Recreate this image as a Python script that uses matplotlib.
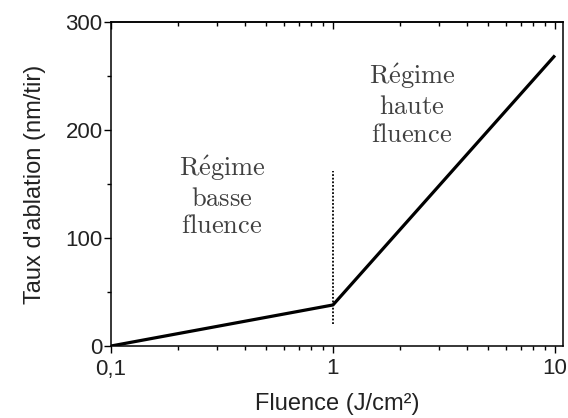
import matplotlib.pyplot as plt
from matplotlib.ticker import FixedLocator, FixedFormatter, LogLocator, NullFormatter, MultipleLocator

# données
fluence = [0.1, 1, 10]
taux = [0, 38, 269]
seuil_x = [1, 1]
seuil_y = [20, 162]
xticks = [0.1, 1, 10]
xticklabels = ["0,1", "1", "10"]
yticks = [0, 100, 200, 300]

plt.rcParams['font.family'] = ['Liberation Sans', 'DejaVu Sans']
plt.rcParams['mathtext.fontset'] = 'cm'

fig = plt.figure(figsize=(5.68, 4.18), dpi=100)
ax = fig.add_axes([111 / 568, 1 - 346 / 418, (563 - 111) / 568, (346 - 22) / 418])

ax.plot(fluence, taux, color='black', lw=2.3, solid_capstyle='butt')
ax.plot(seuil_x, seuil_y, color='black', lw=1.3, ls=(0, (1, 1)))

ax.set_xscale('log')
ax.set_xlim(0.1, 10.87)
ax.set_ylim(0, 300)

ax.xaxis.set_major_locator(FixedLocator(xticks))
ax.xaxis.set_major_formatter(FixedFormatter(xticklabels))
ax.xaxis.set_minor_locator(LogLocator(base=10, subs=range(2, 10)))
ax.xaxis.set_minor_formatter(NullFormatter())
ax.yaxis.set_major_locator(FixedLocator(yticks))
ax.yaxis.set_minor_locator(MultipleLocator(50))

for s in ax.spines.values():
    s.set_linewidth(1.1)

ax.tick_params(which='both', direction='out', top=False, right=False, width=1.0,
               labelsize=16, labelcolor='#222222')
ax.tick_params(which='major', length=5)
ax.tick_params(which='minor', length=3)
ax.tick_params(axis='x', pad=4)
ax.tick_params(axis='y', pad=1)

# ticks intérieurs en haut
sec = ax.secondary_xaxis('top')
sec.xaxis.set_major_locator(FixedLocator(xticks))
sec.xaxis.set_minor_locator(LogLocator(base=10, subs=range(2, 10)))
sec.tick_params(which='both', direction='in', width=1.0, labeltop=False)
sec.tick_params(which='major', length=5)
sec.tick_params(which='minor', length=3)
sec.spines['top'].set_linewidth(1.1)

ax.set_xlabel("Fluence (J/cm²)", fontsize=17, labelpad=10, color='#222222')
ax.set_ylabel("Taux d'ablation (nm/tir)", fontsize=17, labelpad=14, color='#222222')

bas = r"$\mathrm{R\acute{e}gime}$" + "\n" + r"$\mathrm{basse}$" + "\n" + r"$\mathrm{fluence}$"
haut = r"$\mathrm{R\acute{e}gime}$" + "\n" + r"$\mathrm{haute}$" + "\n" + r"$\mathrm{fluence}$"
ax.text(0.316, 139, bas, ha='center', va='center', fontsize=19, color='#404040', linespacing=1.2)
ax.text(2.27, 224, haut, ha='center', va='center', fontsize=19, color='#404040', linespacing=1.2)

fig.savefig('out.png', dpi=100)
